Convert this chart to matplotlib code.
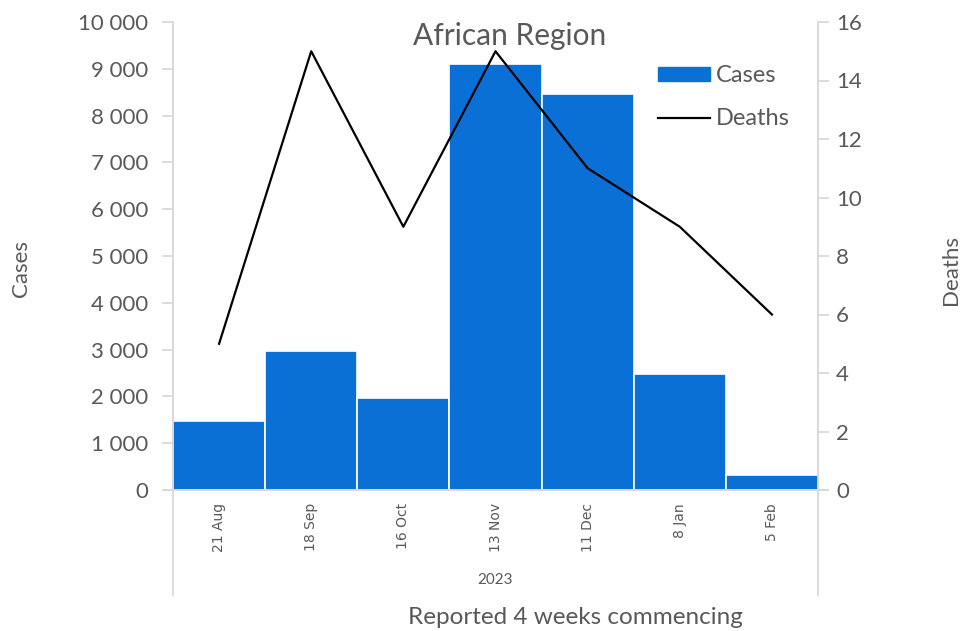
import matplotlib
matplotlib.use("Agg")
import matplotlib.pyplot as plt
from matplotlib.ticker import FuncFormatter, MultipleLocator
from matplotlib.patches import Patch
from matplotlib.lines import Line2D

categories = ["21 Aug", "18 Sep", "16 Oct", "13 Nov", "11 Dec", "8 Jan", "5 Feb"]
cases = [1470, 2960, 1970, 9100, 8460, 2480, 310]
deaths = [5, 15, 9, 15, 11, 9, 6]
year_label = "2023"

plt.rcParams['font.family'] = ['Lato', 'DejaVu Sans']
grey = "#595959"
axis_col = "#d9d9d9"
bar_col = "#0a70d6"

fig = plt.figure(figsize=(9.6, 6.31), dpi=100)
ax = fig.add_axes([173/960, 1 - 490/631, (818-173)/960, (490-22)/631])
x = list(range(len(categories)))
ax.bar(x, cases, width=1.0, color=bar_col, edgecolor="white", linewidth=1.2, zorder=2)
ax.set_xlim(-0.5, len(categories) - 0.5)
ax.set_ylim(0, 10000)
ax.yaxis.set_major_locator(MultipleLocator(1000))
ax.yaxis.set_major_formatter(FuncFormatter(lambda v, p: f"{int(v):,}".replace(",", " ")))
ax.set_xticks([])
ax.spines["top"].set_visible(False)
for s in ["left", "right", "bottom"]:
    ax.spines[s].set_color(axis_col)
    ax.spines[s].set_linewidth(1.3)
ax.tick_params(axis="y", colors=axis_col, labelcolor=grey, labelsize=16, length=8, width=1.3, pad=10)
ax.set_ylabel("Cases", color=grey, fontsize=16)
ax.yaxis.set_label_coords((31 - 173) / 645, 0.474)

ax2 = ax.twinx()
ax2.plot(x, deaths, color="black", linewidth=1.6, zorder=3)
ax2.set_ylim(0, 16)
ax2.yaxis.set_major_locator(MultipleLocator(2))
ax2.spines["top"].set_visible(False)
for s in ["left", "right", "bottom"]:
    ax2.spines[s].set_color(axis_col)
    ax2.spines[s].set_linewidth(1.3)
ax2.tick_params(axis="y", colors=axis_col, labelcolor=grey, labelsize=16, length=8, width=1.3, pad=5)
ax2.set_ylabel("Deaths", color=grey, fontsize=16, rotation=90)
ax2.yaxis.set_label_coords((941 - 173) / 645, 0.47)

# extended axis lines below the plot (category area)
ext = (595 - 490) / (490 - 22)
for xx in (0, 1):
    ax.plot([xx, xx], [0, -ext], transform=ax.transAxes, color=axis_col, lw=1.3, clip_on=False)
ax.plot([-8/645, 1 + 10/645], [0, 0], transform=ax.transAxes, color=axis_col, lw=1.3, clip_on=False)

for i, c in enumerate(categories):
    ax.text(i, -13/468 * 10000, c, rotation=90, ha="center", va="top",
            fontsize=10, color=grey, family="DejaVu Sans")
ax.text(0.5 * (len(categories) - 1), -(580 - 490) / 468 * 10000, year_label,
        ha="center", va="center", fontsize=11, color=grey)

fig.text(575/960, 1 - 618/631, "Reported 4 weeks commencing", ha="center", va="center",
         fontsize=17.5, color=grey)
fig.text(510/960, 1 - 36/631, "African Region", ha="center", va="center",
         fontsize=21.5, color=grey)

handles = [Patch(facecolor=bar_col, edgecolor=bar_col), Line2D([0], [0], color="black", lw=1.6)]
leg = fig.legend(handles, ["Cases", "Deaths"], loc="upper left",
                 bbox_to_anchor=(658/960, 1 - 65/631), frameon=False, fontsize=17,
                 labelcolor=grey, handlelength=2.2, handleheight=0.55, handletextpad=0.25,
                 labelspacing=0.95, borderpad=0, borderaxespad=0)

fig.savefig("out.png", dpi=100)
